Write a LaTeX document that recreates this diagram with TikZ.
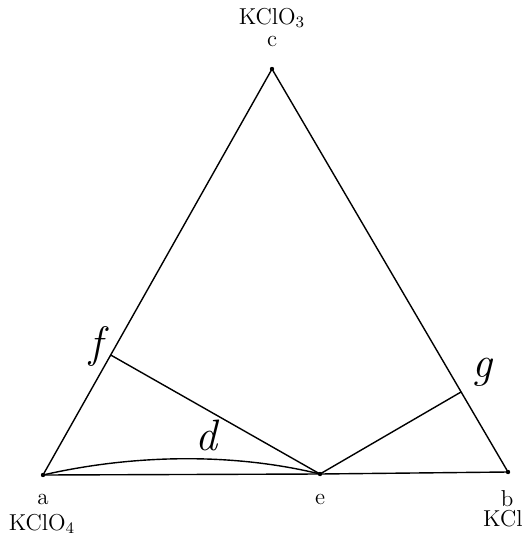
\documentclass[tikz,border=0pt]{standalone}
\begin{document}
\begin{tikzpicture}[x=0.5pt,y=-0.5pt,
  ln/.style={line width=0.7pt},
  lbl/.style={inner sep=0pt,font=\fontsize{11.5}{13}\selectfont},
  hand/.style={inner sep=0pt,font=\fontsize{22}{24}\selectfont\itshape},
  dot/.style={circle,fill,inner sep=0pt,minimum size=2.2pt}]
\useasboundingbox (0,0) rectangle (525,535);
\coordinate (a) at (43,475);
\coordinate (b) at (508,472);
\coordinate (c) at (272,69);
\coordinate (e) at (320,474);
\coordinate (f) at (110.7,355);
\coordinate (g) at (461,392);
\draw[ln] (a) -- (c) -- (b) -- (e) -- (a);
\draw[ln] (f) -- (e) -- (g);
\draw[ln] (a) .. controls (130,455) and (230,452) .. (e);
\foreach \p in {a,b,c,e} \node[dot] at (\p) {};
\node[lbl] (tc) at (272,18) {KClO$_3$};
\node[lbl] (lc) at (272,41) {c};
\node[lbl] (la) at (43,499) {a};
\node[lbl] (ta) at (42,524) {KClO$_4$};
\node[lbl] (le) at (320,499) {e};
\node[lbl] (lb) at (507,499) {b};
\node[lbl,anchor=east] (tb) at (523,519) {KCl};
\node[hand] (lf) at (96,346) {f};
\node[hand] (lg) at (482,372) {g};
\node[hand] (ld) at (206,435) {d};
\end{tikzpicture}
\end{document}
